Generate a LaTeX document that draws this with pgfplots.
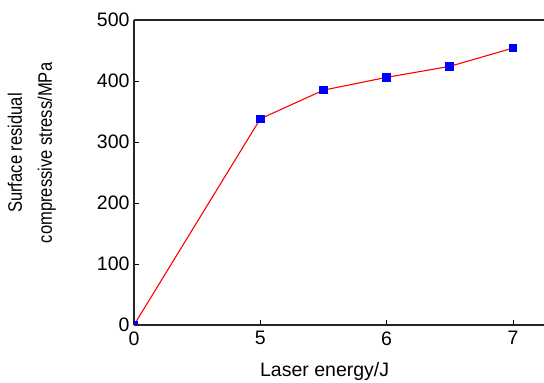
\documentclass[border=0pt]{standalone}
\usepackage{fontspec}
\setmainfont{Liberation Sans}
\newfontfamily\condfont{Liberation Sans}[FakeStretch=0.85]
\usepackage{pgfplots}
\pgfplotsset{compat=1.18}
\begin{document}
\begin{tikzpicture}
\begin{axis}[
  scale only axis,
  width=410pt, height=305pt,
  xmin=0, xmax=3.246,
  ymin=0, ymax=500,
  axis x line=box, axis y line=left,
  axis line style={-, line width=1.2pt, black!85},
  xtick={0,1,2,3}, xticklabels={0,5,6,7},
  ytick={0,100,200,300,400,500},
  xtick pos=bottom, ytick pos=left,
  tick align=inside,
  major tick length=5pt,
  tick style={line width=0.8pt, black},
  /pgf/number format/assume math mode=true,
  tick label style={font=\fontsize{19.5}{21}\selectfont},
  xticklabel style={yshift=-3pt},
  yticklabel style={xshift=-1pt},
  xlabel={Laser energy/J},
  ylabel={Surface residual\\compressive stress/MPa},
  xlabel style={font=\fontsize{19.5}{24}\selectfont, at={(axis description cs:0.465,0)}, anchor=base, yshift=-52pt},
  ylabel style={font=\condfont\fontsize{19.5}{30}\selectfont, at={(axis description cs:-0.249,0.564)}, anchor=center, align=center},
  clip marker paths=true,
]
\coordinate (o) at (rel axis cs:0,0);
\addplot[red, line width=1.1pt, mark=square*, mark size=3.8pt,
  mark options={fill=blue, draw=blue, line width=0pt}]
  coordinates {(0,0) (1,338) (1.5,385) (2,406) (2.5,424) (3,454)};
\end{axis}
\pgfresetboundingbox
\path (o) ++(-134pt,-58pt) rectangle ++(544pt,383pt);
\end{tikzpicture}
\end{document}
